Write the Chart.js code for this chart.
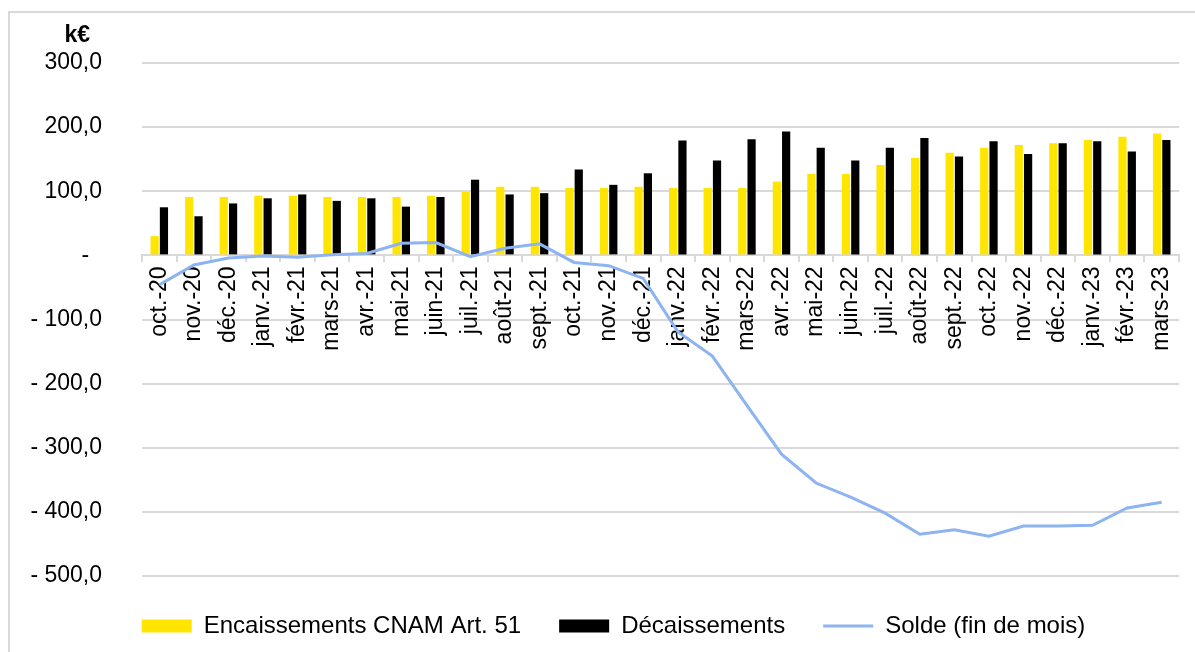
<!DOCTYPE html>
<html>
<head>
<meta charset="utf-8">
<script src="https://cdn.jsdelivr.net/npm/chart.js@4.4.0/dist/chart.umd.min.js"></script>
<style>
  html, body { margin: 0; padding: 0; background: #fff; overflow: hidden; }
  #wrap { position: relative; width: 1195px; height: 652px; }
  #frame { position: absolute; left: 8px; top: 11px; width: 1200px; height: 660px; border: 2px solid #d9d9d9; box-sizing: border-box; }
  canvas { position: absolute; left: 0; top: 0; }
</style>
</head>
<body>
<div id="wrap">
  <div id="frame"></div>
  <canvas id="myChart" width="1195" height="652"></canvas>
</div>
<script>
const months = ['oct.-20', 'nov.-20', 'déc.-20', 'janv.-21', 'févr.-21', 'mars-21', 'avr.-21', 'mai-21',
    'juin-21', 'juil.-21', 'août-21', 'sept.-21', 'oct.-21', 'nov.-21', 'déc.-21', 'janv.-22', 'févr.-22',
    'mars-22', 'avr.-22', 'mai-22', 'juin-22', 'juil.-22', 'août-22', 'sept.-22', 'oct.-22', 'nov.-22',
    'déc.-22', 'janv.-23', 'févr.-23', 'mars-23'];

// k€ per month
const encaissements = [30, 91, 91, 93, 93, 91, 91, 91, 93, 99, 107, 107, 105, 105, 107, 105, 105, 105, 115,
    127, 127, 141, 152, 160, 168, 172, 175, 180, 185, 190];
const decaissements = [75, 61, 81, 89, 95, 85, 89, 76, 91, 118, 95, 97, 134, 110, 128, 179, 148, 181, 193,
    168, 148, 168, 183, 154, 178, 158, 175, 178, 162, 180];
const solde = [-46, -15, -4, -1, -3, 1, 3, 19, 20, -2, 11, 18, -11, -16, -36, -119, -157, -234, -310,
    -355, -377, -402, -435, -428, -438, -422, -422, -421, -394, -385];

const yTicks = [300, 200, 100, 0, -100, -200, -300, -400, -500];

const fontName = "'Liberation Sans', Arial, sans-serif";
Chart.defaults.font.family = fontName;
Chart.defaults.font.size = 23;
Chart.defaults.color = '#000';

function formatTick(v) {
    if (v === 0) return '-  ';
    if (v < 0) return '- ' + Math.abs(v) + ',0';
    return v + ',0';
}

// the "k€" unit above the value axis
const unitLabel = {
    id: 'unitLabel',
    afterDraw(chart) {
        const ctx = chart.ctx;
        ctx.save();
        ctx.font = 'bold 23px ' + fontName;
        ctx.fillStyle = '#000';
        ctx.textAlign = 'right';
        ctx.textBaseline = 'middle';
        ctx.fillText('k€', 90, 36);
        ctx.restore();
    }
};

// legend sits a bit right of the canvas centre in the original
const legendShift = {
    id: 'legendShift',
    afterLayout(chart) {
        chart.legend.left += 24;
        chart.legend.right += 24;
    }
};

new Chart(document.getElementById('myChart').getContext('2d'), {
    type: 'bar',
    data: {
        labels: months,
        datasets: [{
            label: 'Encaissements CNAM Art. 51',
            data: encaissements,
            backgroundColor: '#ffe500',
            pointStyle: 'rect',
            categoryPercentage: 0.54,
            barPercentage: 0.88,
            order: 1
        }, {
            label: 'Décaissements',
            data: decaissements,
            backgroundColor: '#000000',
            pointStyle: 'rect',
            categoryPercentage: 0.54,
            barPercentage: 0.88,
            order: 1
        }, {
            type: 'line',
            label: 'Solde (fin de mois)',
            data: solde,
            borderColor: '#8db4f0',
            backgroundColor: '#8db4f0',
            borderWidth: 3,
            pointRadius: 0,
            pointStyle: 'line',
            tension: 0,
            order: 0
        }]
    },
    options: {
        responsive: false,
        animation: false,
        devicePixelRatio: 1,
        layout: {
            padding: { left: 0, right: 16, top: 63, bottom: 4 }
        },
        plugins: {
            legend: {
                position: 'bottom',
                labels: {
                    usePointStyle: true,
                    pointStyleWidth: 50,
                    boxHeight: 13,
                    padding: 38,
                    color: '#000',
                    font: { size: 24 },
                    sort: (a, b) => a.datasetIndex - b.datasetIndex
                }
            },
            tooltip: { enabled: false }
        },
        scales: {
            x: {
                position: { y: 0 },
                offset: true,
                grid: {
                    offset: true,
                    drawOnChartArea: false,
                    drawTicks: true,
                    tickLength: 6,
                    color: '#d9d9d9',
                    lineWidth: 2
                },
                border: { color: '#d9d9d9', width: 2 },
                ticks: {
                    autoSkip: false,
                    maxRotation: 90,
                    minRotation: 90,
                    padding: 5,
                    color: '#000'
                }
            },
            y: {
                min: -500,
                max: 300,
                afterBuildTicks: (scale) => {
                    scale.ticks = yTicks.map(v => ({ value: v }));
                },
                afterFit: (scale) => {
                    scale.width = 142;
                },
                grid: {
                    color: '#d9d9d9',
                    lineWidth: 2,
                    drawTicks: false
                },
                border: { display: false },
                ticks: {
                    padding: 40,
                    color: '#000',
                    callback: (v) => formatTick(v)
                }
            }
        }
    },
    plugins: [unitLabel, legendShift]
});
</script>
</body>
</html>
